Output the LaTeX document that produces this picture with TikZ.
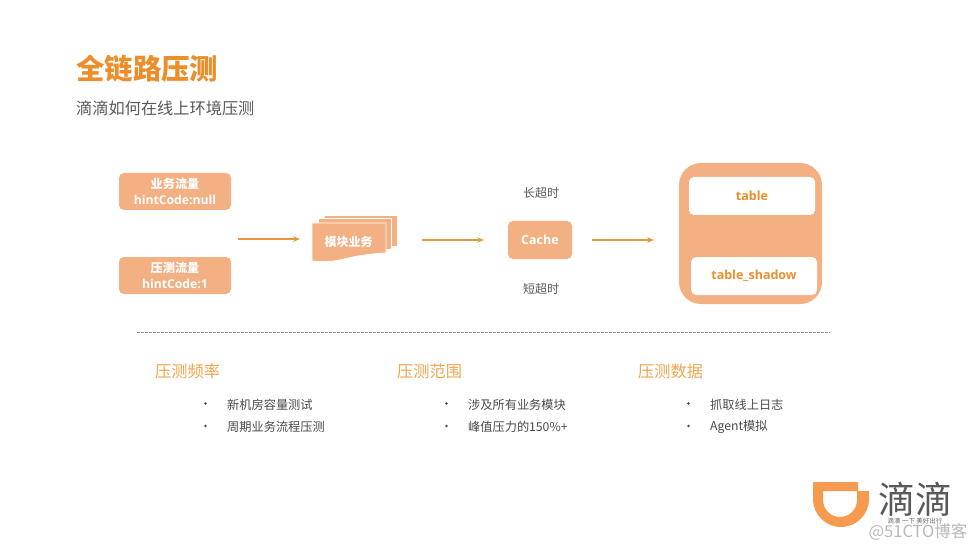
\documentclass[tikz,border=0pt]{standalone}
\usepackage{fontspec}
\setmainfont{Open Sans}
\newfontfamily\cjk{Noto Sans CJK SC}
\definecolor{peach}{HTML}{F3B083}
\definecolor{arrowor}{HTML}{E8973A}
\definecolor{titleor}{HTML}{EC8E2A}
\definecolor{heador}{HTML}{EFA64F}
\definecolor{greytxt}{HTML}{595959}
\definecolor{darktxt}{HTML}{4A4A4A}
\definecolor{logoor}{HTML}{F59A4E}
\tikzset{
  x=1pt,y=-1pt,
  softbox/.style={fill=peach,draw=none,rounded corners=5pt,inner sep=0pt,text=white,font=\bfseries\fontsize{12.2}{15.5}\selectfont,align=center},
  whitebox/.style={fill=white,draw=none,rounded corners=5pt,inner sep=0pt,text=titleor,font=\bfseries\fontsize{12.5}{15}\selectfont},
  flow/.style={draw=arrowor,line width=1.2pt,-{Stealth[length=6.5pt,width=5.5pt]}},
  heading/.style={anchor=west,inner sep=0pt,text=heador,font=\cjk\fontsize{16.2}{18}\selectfont},
  bulleted/.style={anchor=west,inner sep=0pt,text=darktxt,font=\cjk\fontsize{12.2}{14}\selectfont},
  dotmark/.style={circle,fill=darktxt,inner sep=0pt,minimum size=2.6pt},
  note/.style={inner sep=0pt,text=greytxt,font=\cjk\fontsize{12}{14}\selectfont},
  sheet/.style={fill=peach,draw=white,line width=0.8pt},
}
\usetikzlibrary{arrows.meta}
\begin{document}
\begin{tikzpicture}
\useasboundingbox (0,0) rectangle (977,548);
\fill[white] (0,0) rectangle (977,548);
% titles
\node[anchor=west,inner sep=0pt,text=titleor,font=\cjk\bfseries\fontsize{28.4}{32}\selectfont] (title) at (76,68.5) {全链路压测};
\node[anchor=west,inner sep=0pt,text=greytxt,font=\cjk\fontsize{16.2}{18}\selectfont] (subtitle) at (76,108) {滴滴如何在线上环境压测};
% traffic boxes
\node[softbox,minimum width=112pt,minimum height=37pt] (biz) at (175,191.5)
  {{\cjk\bfseries 业务流量}\\hintCode:null};
\node[softbox,minimum width=112pt,minimum height=37pt] (press) at (175,275.5)
  {{\cjk\bfseries 压测流量}\\hintCode:1};
% module stack
\node[minimum width=85pt,minimum height=48pt,inner sep=0pt] (mod) at (354.5,240) {};
\filldraw[sheet] (324,215) rectangle (397,246);
\filldraw[sheet] (318,218.5) rectangle (391.5,249.5);
\filldraw[sheet] (312,223) -- (386,223) -- (386,253) .. controls (366,254) and (352,257) .. (340,260) .. controls (330,262) and (320,262) .. (312,261) -- cycle;
\node[inner sep=0pt,text=white,font=\cjk\bfseries\fontsize{12}{14}\selectfont] (modtext) at (348.5,242) {模块业务};
% cache
\node[softbox,minimum width=64pt,minimum height=38pt,font=\bfseries\fontsize{12.5}{15}\selectfont] (cache) at (540,240) {Cache};
\node[note] (long) at (541,192.5) {长超时};
\node[note] (short) at (541,288.5) {短超时};
% database
\node[fill=peach,draw=none,rounded corners=22pt,minimum width=143pt,minimum height=141pt,inner sep=0pt] (db) at (750.5,233.5) {};
\node[whitebox,minimum width=126pt,minimum height=38pt] (tbl) at (752,196) {table};
\node[whitebox,minimum width=126pt,minimum height=38pt] (shadow) at (754,276) {table\_shadow};
% connectors
\coordinate (src) at (238,239);
\draw[flow,shorten >=12pt] (src) -- (mod.west |- src);
\draw[flow,shorten <=25pt,shorten >=24pt] (mod.east) -- (cache.west);
\draw[flow,shorten <=20pt,shorten >=25pt] (cache.east) -- (db.west |- cache.east);
% divider
\coordinate (divl) at (137,332.5);
\coordinate (divr) at (830,332.5);
\draw[draw=black!40,line width=0.6pt,dash pattern=on 2.5pt off 1.5pt] (divl) -- (divr);
% lower columns
\node[heading] (h1) at (155,371.5) {压测频率};
\node[dotmark] (d11) at (205.5,403.5) {};
\node[dotmark] (d12) at (205.5,426) {};
\node[bulleted] (t11) at (227,404.5) {新机房容量测试};
\node[bulleted] (t12) at (227,427) {周期业务流程压测};
\node[heading] (h2) at (397,371.5) {压测范围};
\node[dotmark] (d21) at (446.5,403.5) {};
\node[dotmark] (d22) at (446.5,426) {};
\node[bulleted] (t21) at (468,404.5) {涉及所有业务模块};
\node[bulleted] (t22) at (468,427) {峰值压力的150\%+};
\node[heading] (h3) at (638,371.5) {压测数据};
\node[dotmark] (d31) at (688.5,403.5) {};
\node[dotmark] (d32) at (688.5,426) {};
\node[bulleted] (t31) at (710,404.5) {抓取线上日志};
\node[bulleted] (t32) at (710,427) {Agent模拟};
% logo
\fill[logoor,even odd rule] (813,482) -- (858,482) -- (858,491) -- (869,491) -- (869,499)
  arc[start angle=0,end angle=180,x radius=28,y radius=28] -- cycle
  (823,491) -- (857,491) -- (857,500) arc[start angle=0,end angle=180,x radius=17,y radius=17] -- cycle;
\node[inner sep=0pt,text=black!65,font=\cjk\fontsize{37}{40}\selectfont] (logotext) at (915.5,499) {滴滴};
\node[inner sep=0pt,text=black!60,font=\cjk\fontsize{6.5}{8}\selectfont] (slogan) at (915,521) {滴滴 一下 美好出行};
\node[inner sep=0pt,text=black!28,font=\cjk\fontsize{16.5}{18}\selectfont] (mark) at (918,532) {@51CTO博客};
\end{tikzpicture}
\end{document}
